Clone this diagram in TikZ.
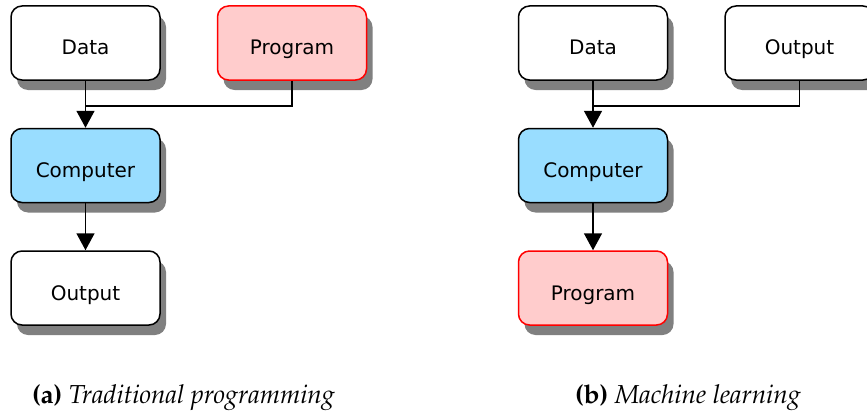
\documentclass[tikz,border=0pt]{standalone}
\usepackage[T1]{fontenc}
\usepackage{fontspec}
\usepackage{xcolor}
\usepackage{tikz}
\usetikzlibrary{positioning,shadows,arrows.meta}

\newfontfamily\boxfont{DejaVu Sans}
\newcommand{\capfont}{\fontencoding{T1}\fontfamily{ppl}\fontsize{26}{30}\selectfont}
\definecolor{progfill}{HTML}{FFCCCC}
\definecolor{compfill}{HTML}{99DDFF}

\begin{document}
\begin{tikzpicture}[x=1pt, y=1pt,
  boxnode/.style={rectangle, rounded corners=11pt, draw=black, fill=white, line width=1.5pt,
    minimum width=149pt, minimum height=74pt, inner sep=0pt, text height=24pt, text depth=0pt,
    font=\boxfont\fontsize{20}{24}\selectfont,
    drop shadow={shadow xshift=6pt, shadow yshift=-10pt, opacity=1, fill=black!50}},
  prognode/.style={boxnode, draw=red, fill=progfill},
  compnode/.style={boxnode, fill=compfill},
  flow/.style={line width=1.6pt},
  flowarrow/.style={flow, -{Triangle[width=18pt, length=17pt]}}]

\useasboundingbox (0,0) rectangle (867,-412);

%Nodes, traditional programming
\node[boxnode]  (dataA)  at (85.5,-43) {Data};
\node[prognode] (progA)  [right=56pt of dataA] {Program};
\node[compnode] (compA)  [below=47pt of dataA] {Computer};
\node[boxnode]  (outA)   [below=47pt of compA] {Output};
\coordinate[below=25pt of dataA.south] (joinA);

%Nodes, machine learning
\node[boxnode]  (dataB)  at (593,-43) {Data};
\node[boxnode]  (outB)   [right=56pt of dataB] {Output};
\node[compnode] (compB)  [below=47pt of dataB] {Computer};
\node[prognode] (progB)  [below=47pt of compB] {Program};
\coordinate[below=25pt of dataB.south] (joinB);

%Lines
\draw[flow] (progA.south) |- (joinA);
\draw[flowarrow] (dataA.south) -- (compA.north);
\draw[flowarrow] (compA.south) -- (outA.north);
\draw[flow] (outB.south) |- (joinB);
\draw[flowarrow] (dataB.south) -- (compB.north);
\draw[flowarrow] (compB.south) -- (progB.north);

%Captions
\node[anchor=base] (capA) at (183.5,-403) {\capfont\textbf{(a)} \textit{Traditional programming}};
\node[anchor=base] (capB) at (688,-403) {\capfont\textbf{(b)} \textit{Machine learning}};

\end{tikzpicture}
\end{document}
